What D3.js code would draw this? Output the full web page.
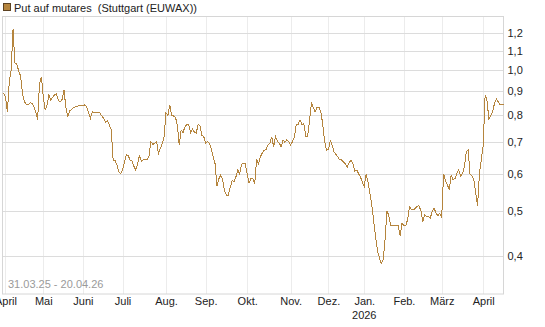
<!DOCTYPE html>
<html lang="de">
<head>
  <meta charset="UTF-8">
  <script src="https://d3js.org/d3.v7.min.js"></script>
  <title>Put auf mutares</title>
  <style>
    body { margin: 0; background: #fff; }
    text { font-family: "Liberation Sans", Arial, sans-serif; }
  </style>
</head>
<body>
  <script>
    const w = 545;
    const h = 327;

    const title = "Put auf mutares  (Stuttgart (EUWAX))";
    const rangeLabel = "31.03.25 - 20.04.26";
    const firstDay = "2025-03-31";
    const lastDay = "2026-04-20";
    // days the exchange was closed
    const holidays = ["2025-04-18", "2025-04-21", "2025-05-01", "2025-12-24", "2025-12-25",
      "2025-12-26", "2025-12-31", "2026-01-01", "2026-04-03", "2026-04-06"];
    const monthLabels = ["April", "Mai", "Juni", "Juli", "Aug.", "Sep.", "Okt.", "Nov.", "Dez.",
      "Jan.", "Feb.", "März", "April"];
    const yearLabel = "2026";
    const yTicks = [0.4, 0.5, 0.6, 0.7, 0.8, 0.9, 1.0, 1.1, 1.2];

    // closing prices, one per trading day
    const prices = [
      0.893, 0.875, 0.814, 0.944, 1.0, 1.222, 1.035, 1.03, 0.995, 0.97,
      0.89, 0.855, 0.845, 0.842, 0.851, 0.848, 0.835, 0.814, 0.782, 0.93,
      0.968, 0.877, 0.822, 0.84, 0.884, 0.863, 0.875, 0.884, 0.89, 0.86,
      0.855, 0.865, 0.905, 0.83, 0.797, 0.818, 0.823, 0.83, 0.835, 0.835,
      0.84, 0.842, 0.838, 0.842, 0.835, 0.81, 0.788, 0.814, 0.81, 0.81,
      0.81, 0.81, 0.797, 0.788, 0.772, 0.779, 0.763, 0.745, 0.642, 0.64,
      0.628, 0.605, 0.60, 0.611, 0.636, 0.658, 0.655, 0.642, 0.64, 0.622,
      0.611, 0.63, 0.658, 0.636, 0.642, 0.642, 0.642, 0.655, 0.703, 0.693,
      0.697, 0.703, 0.663, 0.68, 0.695, 0.72, 0.81, 0.80, 0.842, 0.80,
      0.797, 0.793, 0.763, 0.691, 0.744, 0.735, 0.755, 0.765, 0.765, 0.735,
      0.748, 0.737, 0.732, 0.765, 0.76, 0.725, 0.72, 0.697, 0.703, 0.697,
      0.678, 0.652, 0.63, 0.565, 0.585, 0.596, 0.582, 0.55, 0.54, 0.54,
      0.56, 0.58, 0.577, 0.59, 0.611, 0.60, 0.629, 0.63, 0.63, 0.60,
      0.573, 0.587, 0.585, 0.57, 0.645, 0.63, 0.652, 0.665, 0.674, 0.675,
      0.691, 0.697, 0.72, 0.685, 0.72, 0.705, 0.697, 0.685, 0.709, 0.70,
      0.709, 0.703, 0.691, 0.703, 0.72, 0.765, 0.765, 0.782, 0.765, 0.768,
      0.722, 0.72, 0.78, 0.849, 0.832, 0.814, 0.832, 0.832, 0.815, 0.765,
      0.703, 0.674, 0.675, 0.706, 0.691, 0.668, 0.66, 0.652, 0.642, 0.642,
      0.636, 0.63, 0.62, 0.634, 0.642, 0.63, 0.608, 0.611, 0.60, 0.59,
      0.575, 0.563, 0.60, 0.575, 0.545, 0.514, 0.475, 0.44, 0.41, 0.397,
      0.385, 0.392, 0.433, 0.50, 0.488, 0.464, 0.464, 0.464, 0.464, 0.464,
      0.442, 0.47, 0.464, 0.464, 0.48, 0.51, 0.503, 0.502, 0.506, 0.511,
      0.512, 0.50, 0.474, 0.49, 0.486, 0.486, 0.482, 0.50, 0.506, 0.494,
      0.488, 0.494, 0.482, 0.60, 0.58, 0.568, 0.554, 0.595, 0.583, 0.585,
      0.60, 0.611, 0.593, 0.60, 0.62, 0.668, 0.674, 0.60, 0.593, 0.583,
      0.545, 0.512, 0.60, 0.645, 0.69, 0.885, 0.86, 0.785, 0.80, 0.814,
      0.85, 0.866, 0.855, 0.842, 0.842, 0.842
    ];

    const parse = d3.timeParse("%Y-%m-%d");
    const fmt = d3.timeFormat("%Y-%m-%d");

    // trading days: weekdays without exchange holidays
    const days = d3.timeDay.range(parse(firstDay), d3.timeDay.offset(parse(lastDay), 1))
      .filter(d => d.getDay() !== 0 && d.getDay() !== 6 && !holidays.includes(fmt(d)));
    const keys = days.map(fmt);
    const data = keys.map((k, i) => ({ key: k, v: prices[i] })).filter(d => d.v !== undefined);

    // first trading day of every month
    const monthTicks = keys.filter((k, i) => i > 0 && days[i].getMonth() !== days[i - 1].getMonth());

    const plotLeft = 2.5, plotRight = 503.5, plotTop = 16.5, plotBottom = 294;

    const x = d3.scalePoint()
      .domain(keys)
      .range([3.6, 504]);

    const y = d3.scaleLog()
      .domain([0.3317, 1.3015])
      .range([plotBottom, plotTop]);

    const svg = d3.select("body")
      .append("svg")
      .attr("width", w)
      .attr("height", h);

    // legend
    svg.append("rect")
      .attr("x", 3.5)
      .attr("y", 3.5)
      .attr("width", 7)
      .attr("height", 7)
      .attr("fill", "#b5853e")
      .attr("stroke", "#5c4222");

    svg.append("text")
      .attr("x", 14)
      .attr("y", 11.5)
      .style("white-space", "pre")
      .attr("font-size", "11px")
      .attr("fill", "#222")
      .text(title);

    // grid
    svg.append("g")
      .selectAll("line")
      .data(monthTicks)
      .enter()
      .append("line")
      .attr("x1", d => Math.round(x(d)) + 0.5)
      .attr("x2", d => Math.round(x(d)) + 0.5)
      .attr("y1", plotTop)
      .attr("y2", plotBottom)
      .attr("stroke", "#ececec");

    svg.append("g")
      .selectAll("line")
      .data(yTicks)
      .enter()
      .append("line")
      .attr("x1", plotLeft)
      .attr("x2", plotRight)
      .attr("y1", d => Math.round(y(d)) + 0.5)
      .attr("y2", d => Math.round(y(d)) + 0.5)
      .attr("stroke", "#dcdcdc");

    // frame
    svg.append("rect")
      .attr("x", plotLeft)
      .attr("y", plotTop)
      .attr("width", plotRight - plotLeft)
      .attr("height", plotBottom - plotTop)
      .attr("fill", "none")
      .attr("stroke", "#d6d6d6");

    // price line
    const line = d3.line()
      .x(d => x(d.key))
      .y(d => y(d.v));

    svg.append("path")
      .datum(data)
      .attr("d", line)
      .attr("fill", "none")
      .attr("stroke", "#b5853e")
      .attr("stroke-width", 1)
      .attr("shape-rendering", "crispEdges");

    svg.append("text")
      .attr("x", 8)
      .attr("y", 288)
      .attr("font-size", "11px")
      .attr("fill", "#9a9a9a")
      .text(rangeLabel);

    // y axis on the right
    const yAxis = d3.axisRight(y)
      .tickValues(yTicks)
      .tickSize(0)
      .tickPadding(4)
      .tickFormat(d => d3.format(".1f")(d).replace(".", ","));

    const gy = svg.append("g")
      .attr("transform", "translate(" + plotRight + ",0)")
      .call(yAxis);
    gy.select(".domain").remove();
    gy.selectAll("text")
      .attr("font-family", null)
      .attr("font-size", "11px")
      .attr("fill", "#222");

    // x axis with month names
    const xAxis = d3.axisBottom(x)
      .tickValues(monthTicks)
      .tickSize(0)
      .tickPadding(3)
      .tickFormat((d, i) => monthLabels[i]);

    const gx = svg.append("g")
      .attr("transform", "translate(0," + plotBottom + ")")
      .call(xAxis);
    gx.select(".domain").remove();
    gx.selectAll("text")
      .attr("font-family", null)
      .attr("font-size", "11px")
      .attr("fill", "#222");

    // year under January
    const janKey = monthTicks[monthLabels.indexOf("Jan.")];
    svg.append("text")
      .attr("x", x(janKey))
      .attr("y", 319)
      .attr("text-anchor", "middle")
      .attr("font-size", "11px")
      .attr("fill", "#222")
      .text(yearLabel);
  </script>
</body>
</html>
